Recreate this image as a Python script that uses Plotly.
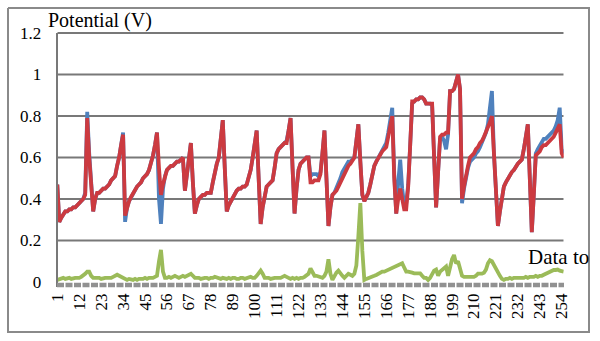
import plotly.graph_objects as go

categories = list(range(1, 256))
tick_labels = [1, 12, 23, 34, 45, 56, 67, 78, 89, 100, 111, 122, 133, 144, 155,
               166, 177, 188, 199, 210, 221, 232, 243, 254]
y_ticks = [0, 0.2, 0.4, 0.6, 0.8, 1.0, 1.2]
y_tick_text = ["0", "0.2", "0.4", "0.6", "0.8", "1", "1.2"]

series_red = [
    0.47, 0.29, 0.31, 0.33, 0.34, 0.34, 0.35, 0.35, 0.36, 0.36,
    0.37, 0.38, 0.39, 0.40, 0.42, 0.79, 0.60, 0.45, 0.34, 0.40,
    0.43, 0.43, 0.44, 0.45, 0.45, 0.46, 0.47, 0.49, 0.50, 0.51,
    0.56, 0.60, 0.66, 0.71, 0.32, 0.36, 0.39, 0.41, 0.43, 0.44,
    0.46, 0.47, 0.48, 0.50, 0.51, 0.52, 0.54, 0.57, 0.61, 0.66,
    0.72, 0.55, 0.42, 0.47, 0.51, 0.54, 0.55, 0.56, 0.56, 0.57,
    0.58, 0.58, 0.59, 0.60, 0.44, 0.52, 0.60, 0.67, 0.48, 0.33,
    0.37, 0.40, 0.41, 0.42, 0.42, 0.43, 0.43, 0.43, 0.48, 0.53,
    0.57, 0.60, 0.69, 0.78, 0.55, 0.34, 0.37, 0.39, 0.41, 0.43,
    0.44, 0.45, 0.45, 0.46, 0.46, 0.47, 0.50, 0.54, 0.60, 0.66,
    0.73, 0.50, 0.28, 0.36, 0.42, 0.46, 0.47, 0.48, 0.49, 0.55,
    0.62, 0.64, 0.65, 0.66, 0.67, 0.67, 0.73, 0.79, 0.55, 0.33,
    0.45, 0.54, 0.57, 0.58, 0.59, 0.60, 0.60, 0.48, 0.48, 0.49,
    0.49, 0.49, 0.52, 0.62, 0.73, 0.50, 0.27, 0.36, 0.42, 0.43,
    0.44, 0.46, 0.48, 0.51, 0.53, 0.55, 0.56, 0.57, 0.59, 0.60,
    0.68, 0.76, 0.58, 0.42, 0.39, 0.41, 0.43, 0.47, 0.52, 0.56,
    0.58, 0.60, 0.62, 0.63, 0.64, 0.65, 0.70, 0.75, 0.80, 0.50,
    0.33, 0.40, 0.45, 0.40, 0.35, 0.35, 0.46, 0.66, 0.87, 0.87,
    0.88, 0.88, 0.89, 0.89, 0.88, 0.86, 0.86, 0.86, 0.86, 0.60,
    0.36, 0.53, 0.70, 0.71, 0.71, 0.72, 0.72, 0.92, 0.92, 0.93,
    0.96, 1.00, 0.93, 0.40, 0.46, 0.52, 0.56, 0.60, 0.61, 0.62,
    0.64, 0.65, 0.67, 0.68, 0.70, 0.72, 0.74, 0.77, 0.80, 0.60,
    0.42, 0.27, 0.34, 0.40, 0.46, 0.48, 0.50, 0.52, 0.53, 0.54,
    0.56, 0.57, 0.58, 0.59, 0.64, 0.70, 0.76, 0.50, 0.24, 0.42,
    0.61, 0.62, 0.63, 0.65, 0.66, 0.66, 0.67, 0.68, 0.69, 0.70,
    0.72, 0.74, 0.76, 0.62, 0.60,
]

series_blue = [
    0.47, 0.29, 0.31, 0.33, 0.34, 0.34, 0.35, 0.35, 0.36, 0.36,
    0.37, 0.38, 0.39, 0.40, 0.43, 0.82, 0.62, 0.45, 0.34, 0.40,
    0.43, 0.43, 0.44, 0.45, 0.45, 0.46, 0.47, 0.49, 0.50, 0.51,
    0.56, 0.60, 0.66, 0.72, 0.29, 0.36, 0.39, 0.41, 0.43, 0.44,
    0.46, 0.47, 0.48, 0.50, 0.51, 0.52, 0.54, 0.57, 0.61, 0.66,
    0.72, 0.40, 0.28, 0.45, 0.51, 0.54, 0.55, 0.56, 0.56, 0.57,
    0.58, 0.58, 0.59, 0.60, 0.44, 0.52, 0.60, 0.67, 0.48, 0.33,
    0.37, 0.40, 0.41, 0.42, 0.42, 0.43, 0.43, 0.43, 0.48, 0.53,
    0.57, 0.60, 0.69, 0.78, 0.55, 0.34, 0.37, 0.39, 0.41, 0.43,
    0.44, 0.45, 0.45, 0.46, 0.46, 0.47, 0.50, 0.54, 0.60, 0.66,
    0.73, 0.50, 0.28, 0.36, 0.42, 0.46, 0.47, 0.48, 0.49, 0.55,
    0.62, 0.64, 0.65, 0.66, 0.67, 0.68, 0.73, 0.79, 0.55, 0.33,
    0.45, 0.54, 0.57, 0.58, 0.59, 0.60, 0.60, 0.51, 0.52, 0.52,
    0.52, 0.51, 0.53, 0.62, 0.73, 0.50, 0.27, 0.36, 0.42, 0.43,
    0.45, 0.48, 0.50, 0.53, 0.55, 0.57, 0.58, 0.58, 0.59, 0.60,
    0.68, 0.76, 0.58, 0.42, 0.39, 0.41, 0.43, 0.47, 0.52, 0.56,
    0.58, 0.60, 0.62, 0.63, 0.65, 0.67, 0.72, 0.78, 0.84, 0.52,
    0.33, 0.48, 0.59, 0.45, 0.37, 0.38, 0.47, 0.66, 0.86, 0.87,
    0.88, 0.88, 0.89, 0.89, 0.88, 0.86, 0.86, 0.86, 0.85, 0.60,
    0.36, 0.53, 0.69, 0.70, 0.68, 0.64, 0.71, 0.92, 0.92, 0.93,
    0.96, 1.00, 0.93, 0.38, 0.45, 0.51, 0.55, 0.58, 0.59, 0.60,
    0.62, 0.63, 0.65, 0.67, 0.69, 0.72, 0.76, 0.85, 0.92, 0.62,
    0.42, 0.27, 0.34, 0.40, 0.46, 0.48, 0.50, 0.52, 0.53, 0.54,
    0.56, 0.57, 0.58, 0.59, 0.64, 0.70, 0.76, 0.50, 0.24, 0.42,
    0.62, 0.64, 0.66, 0.68, 0.69, 0.69, 0.70, 0.71, 0.72, 0.73,
    0.75, 0.78, 0.84, 0.64, 0.62,
]

series_green = [
    0.010, 0.015, 0.020, 0.020, 0.015, 0.020, 0.020, 0.015, 0.020, 0.020,
    0.020, 0.020, 0.025, 0.030, 0.040, 0.050, 0.050, 0.030, 0.020, 0.020,
    0.020, 0.020, 0.015, 0.020, 0.020, 0.020, 0.020, 0.020, 0.025, 0.030,
    0.035, 0.030, 0.025, 0.020, 0.015, 0.010, 0.015, 0.010, 0.010, 0.015,
    0.010, 0.015, 0.015, 0.015, 0.020, 0.015, 0.020, 0.020, 0.020, 0.025,
    0.030, 0.100, 0.155, 0.050, 0.020, 0.020, 0.025, 0.020, 0.025, 0.030,
    0.025, 0.020, 0.025, 0.030, 0.025, 0.030, 0.030, 0.040, 0.030, 0.020,
    0.020, 0.020, 0.015, 0.020, 0.020, 0.020, 0.015, 0.020, 0.020, 0.025,
    0.020, 0.020, 0.015, 0.020, 0.015, 0.015, 0.020, 0.015, 0.020, 0.020,
    0.015, 0.015, 0.020, 0.020, 0.015, 0.020, 0.020, 0.025, 0.020, 0.020,
    0.030, 0.040, 0.055, 0.040, 0.020, 0.020, 0.020, 0.015, 0.020, 0.020,
    0.020, 0.020, 0.020, 0.025, 0.030, 0.025, 0.020, 0.015, 0.020, 0.015,
    0.020, 0.015, 0.020, 0.020, 0.025, 0.030, 0.040, 0.065, 0.050, 0.030,
    0.030, 0.025, 0.020, 0.020, 0.030, 0.050, 0.110, 0.040, 0.010, 0.030,
    0.045, 0.055, 0.040, 0.030, 0.020, 0.030, 0.040, 0.035, 0.030, 0.040,
    0.080, 0.220, 0.380, 0.150, 0.010, 0.015, 0.020, 0.025, 0.030, 0.030,
    0.034, 0.040, 0.045, 0.050, 0.050, 0.055, 0.058, 0.060, 0.065, 0.070,
    0.075, 0.080, 0.085, 0.090, 0.070, 0.050, 0.050, 0.045, 0.045, 0.042,
    0.042, 0.042, 0.042, 0.030, 0.020, 0.020, 0.010, 0.020, 0.040, 0.055,
    0.060, 0.030, 0.050, 0.060, 0.070, 0.075, 0.030, 0.080, 0.110, 0.130,
    0.090, 0.100, 0.060, 0.030, 0.025, 0.025, 0.025, 0.025, 0.025, 0.025,
    0.030, 0.040, 0.040, 0.040, 0.045, 0.060, 0.090, 0.105, 0.100, 0.080,
    0.060, 0.040, 0.030, 0.015, 0.010, 0.015, 0.015, 0.020, 0.015, 0.020,
    0.020, 0.020, 0.020, 0.020, 0.020, 0.025, 0.020, 0.025, 0.025, 0.025,
    0.030, 0.025, 0.030, 0.030, 0.035, 0.040, 0.045, 0.050, 0.055, 0.058,
    0.058, 0.060, 0.055, 0.050, 0.050,
]

SERIF = "Liberation Serif"
GRID = "rgb(120,120,120)"
W, H = 600, 341

fig = go.Figure()

# horizontal gridlines (drawn as lines on the data axes, under the series)
for yv in y_ticks[1:]:
    fig.add_trace(go.Scatter(x=[categories[0], categories[-1]], y=[yv, yv], mode="lines",
                             line=dict(color=GRID, width=2), hoverinfo="skip",
                             showlegend=False))

fig.add_trace(go.Scatter(x=categories, y=series_blue, mode="lines",
                         line=dict(color="#4F81BD", width=3.8), showlegend=False))
fig.add_trace(go.Scatter(x=categories, y=series_red, mode="lines",
                         line=dict(color="#CC3A40", width=3.8), showlegend=False))
fig.add_trace(go.Scatter(x=categories, y=series_green, mode="lines",
                         line=dict(color="#9BBB59", width=3.8), showlegend=False))

# frame decorations on a full-figure pixel overlay (x2/y2)
deco = dict(xaxis="x2", yaxis="y2", mode="lines", hoverinfo="skip", showlegend=False)
fig.add_trace(go.Scatter(x=[8, 589, 589, 8, 8], y=[8, 8, 332, 332, 8],
                         line=dict(color="rgb(138,138,138)", width=2), **deco))
fig.add_trace(go.Scatter(x=[57, 57], y=[33, 287],
                         line=dict(color=GRID, width=2), **deco))
fig.add_trace(go.Scatter(x=[57, 564], y=[285, 285],
                         line=dict(color="rgb(145,145,145)", width=4.5, dash="7px,1.5px"), **deco))

fig.add_annotation(text="Potential (V)", xref="paper", yref="paper",
                   x=46 / W, y=1 - 21 / H, xanchor="left", yanchor="middle",
                   showarrow=False, font=dict(family=SERIF, size=20, color="black"))
fig.add_annotation(text="Data to", xref="paper", yref="paper",
                   x=526 / W, y=1 - 257 / H, xanchor="left", yanchor="middle",
                   showarrow=False, font=dict(family=SERIF, size=21, color="black"))

fig.update_layout(
    template="none",
    width=W, height=H, autosize=False,
    margin=dict(l=0, r=0, t=0, b=0, pad=0),
    paper_bgcolor="white", plot_bgcolor="rgba(0,0,0,0)",
    font=dict(family=SERIF, size=17, color="black"),
    xaxis=dict(domain=[57.3 / W, 563.7 / W], range=[1, 255], tickmode="array",
               tickvals=tick_labels, ticktext=[str(t) for t in tick_labels],
               tickangle=-90, showgrid=False, zeroline=False, showline=False,
               ticks="", ticklabelstandoff=2, automargin=False,
               tickfont=dict(family=SERIF, size=17, color="black")),
    yaxis=dict(domain=[54 / H, 309.25 / H], range=[-0.024, 1.206], tickmode="array",
               tickvals=y_ticks, ticktext=y_tick_text, showgrid=False,
               zeroline=False, showline=False, ticks="", ticklabelstandoff=15,
               automargin=False,
               tickfont=dict(family=SERIF, size=17, color="black")),
    xaxis2=dict(domain=[0, 1], range=[0, W], anchor="y2", visible=False,
                fixedrange=True, automargin=False),
    yaxis2=dict(domain=[0, 1], range=[H, 0], anchor="x2", visible=False,
                fixedrange=True, automargin=False),
)

fig.write_html("out.html",
               config={"displayModeBar": False, "staticPlot": True},
               post_script="document.body.style.margin='0';document.body.style.overflow='hidden';")
